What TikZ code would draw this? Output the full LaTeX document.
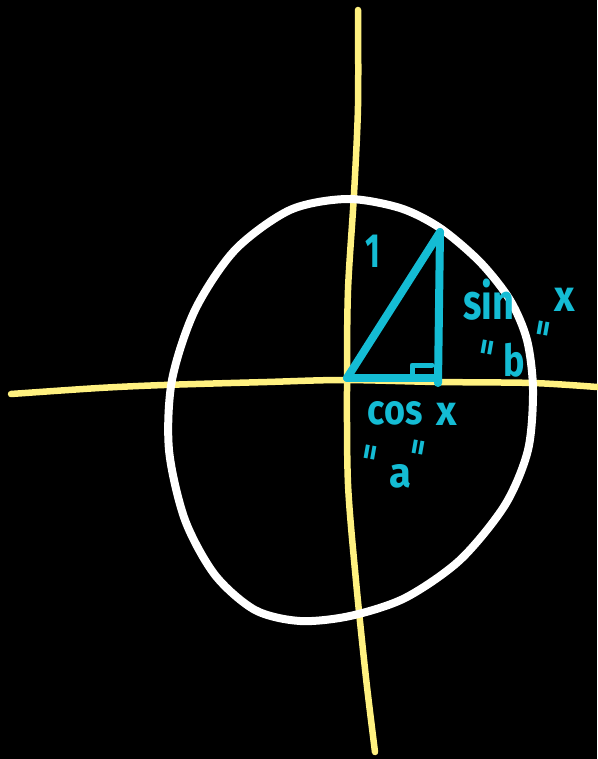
\documentclass[tikz,border=0pt]{standalone}
\usepackage{fontspec}
\usepackage{graphicx}
\setmainfont{Fira Sans}
\definecolor{ylw}{RGB}{255,241,128}
\definecolor{cyn}{RGB}{20,188,212}
\begin{document}
\begin{tikzpicture}[x=1pt,y=-1pt,line cap=round,line join=round,
  axis/.style={draw=ylw,line width=6.5pt},
  ring/.style={draw=white,line width=8pt},
  tri/.style={draw=cyn,line width=8pt},
  hand/.style={text=cyn,inner sep=0pt,font=\fontsize{40}{40}\selectfont\bfseries},
  eqmark/.style={text=cyn,inner sep=0pt,font=\fontsize{32}{32}\selectfont\bfseries,rotate=80}]
\fill[black] (0,0) rectangle (597,759);
\useasboundingbox (0,0) rectangle (597,759);
% axes
\draw[axis] plot[smooth] coordinates {(11,394) (99,388) (164,385) (267,382) (343,380) (438,382) (533,383) (597,387)};
\draw[axis] plot[smooth] coordinates {(358,10) (358,106) (354,194) (348,290) (347,382) (348,484) (356,581) (366,678) (375,752)};
% circle
\draw[ring] plot[smooth cycle] coordinates {(347,199) (400,208) (440,228) (480,262) (510,300) (527,340) (533,390) (528,450) (505,505) (460,560) (405,598) (350,616) (300,621) (255,610) (215,575) (185,520) (169,450) (172,380) (195,310) (235,250) (290,210)};
% triangle
\coordinate (O) at (347,378);
\coordinate (P) at (440,232);
\coordinate (F) at (438,383);
\coordinate (Fb) at (438,378);
\draw[tri] (O) -- (P);
\draw[tri] (P) -- (F);
\draw[tri] (O) -- (Fb);
\coordinate (r1) at (412,379);
\coordinate (r2) at (412,365);
\coordinate (r3) at (432,365);
\draw[tri,line width=5pt] (r1) -- (r2) -- (r3);
% labels
\node[hand] (one) at (373,251) {\scalebox{0.8}[1.2]{1}};
\node[hand] (sin) at (489,300) {\scalebox{0.95}[1.25]{sin}};
\node[hand] (sx) at (565,300) {\scalebox{1}[1.1]{x}};
\node[eqmark] (e1) at (490,348) {=};
\node[hand] (b) at (514,360) {\scalebox{0.9}[1.1]{b}};
\node[eqmark] (e2) at (546,329) {=};
\node[hand] (cos) at (395,413) {\scalebox{0.9}[1.05]{cos}};
\node[hand] (cx) at (447,414) {\scalebox{1}[1.05]{x}};
\node[eqmark] (e3) at (373,453) {=};
\node[eqmark] (e4) at (421,448) {=};
\node[hand] (a) at (400,476) {\scalebox{1}[1.05]{a}};
\end{tikzpicture}
\end{document}
